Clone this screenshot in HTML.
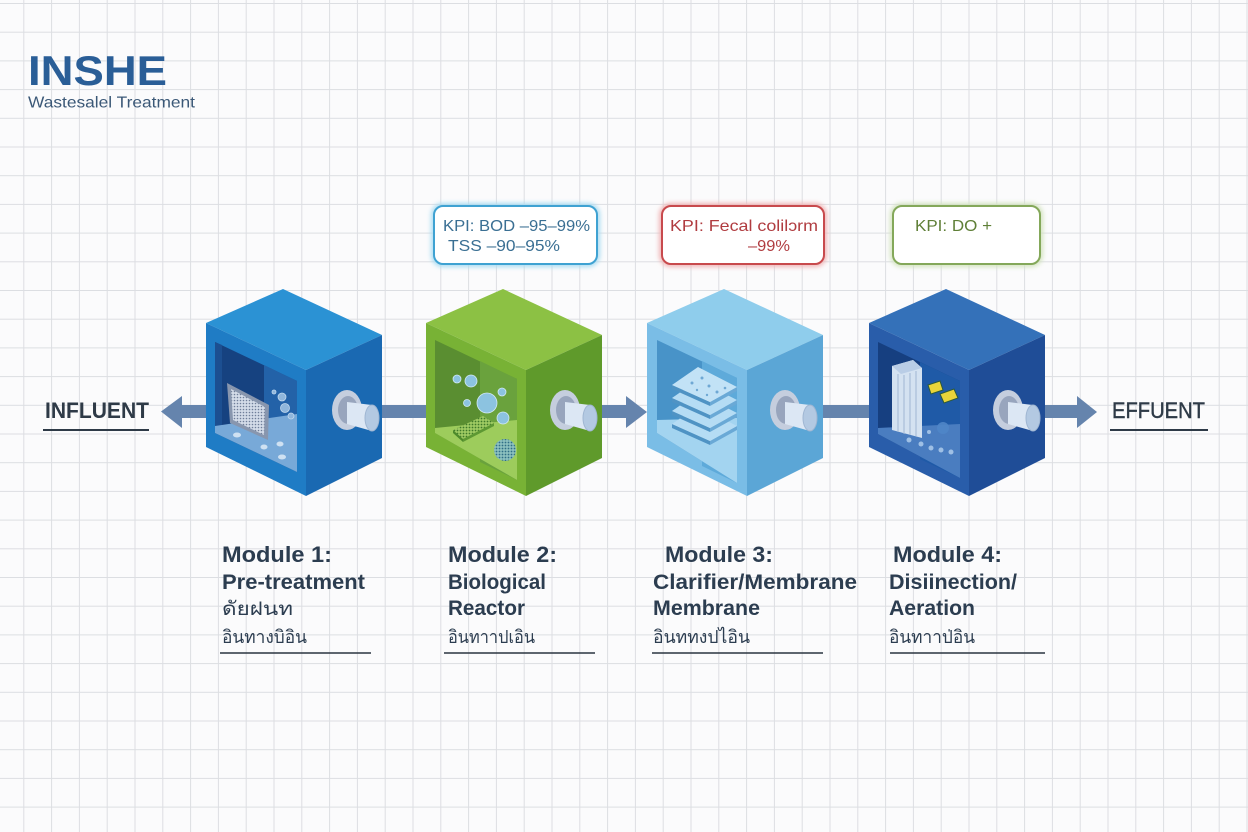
<!DOCTYPE html>
<html><head><meta charset="utf-8"><style>
html,body{margin:0;padding:0;background:#fbfbfc;}
svg{display:block;}
text{font-family:"Liberation Sans","DejaVu Sans",sans-serif;}
</style></head><body>
<svg width="1248" height="832" viewBox="0 0 1248 832" xmlns="http://www.w3.org/2000/svg">
<defs>
<pattern id="grid" x="23.3" y="3" width="27.8" height="28.7" patternUnits="userSpaceOnUse">
<path d="M0.5 0V28.7M0 0.5H27.8" stroke="#dcdee2" stroke-width="1" fill="none"/>
</pattern>
<pattern id="mesh" width="3" height="3" patternUnits="userSpaceOnUse"><rect width="3" height="3" fill="#d3dbe8"/><circle cx="1.5" cy="1.5" r="0.8" fill="#6f7e99"/></pattern>
<pattern id="gmesh" width="3" height="3" patternUnits="userSpaceOnUse"><rect width="3" height="3" fill="#9fcb63"/><circle cx="1.5" cy="1.5" r="0.9" fill="#3f7a2a"/></pattern>
<pattern id="tmesh" width="3" height="3" patternUnits="userSpaceOnUse"><rect width="3" height="3" fill="#8cc0bf"/><circle cx="1.5" cy="1.5" r="0.9" fill="#2f6f86"/></pattern>
<filter id="glow" x="-20%" y="-20%" width="140%" height="140%"><feGaussianBlur stdDeviation="2.5"/></filter>
</defs>
<rect width="1248" height="832" fill="#fbfbfc"/>
<rect width="1248" height="832" fill="url(#grid)"/>

<!-- Logo -->
<text x="28" y="85" font-size="42" font-weight="bold" fill="#2a5e97" textLength="139" lengthAdjust="spacingAndGlyphs">INSHE</text>
<text x="28" y="107.5" font-size="16" fill="#3b5877" textLength="167" lengthAdjust="spacingAndGlyphs">Wastesalel Treatment</text>

<!-- KPI boxes -->
<rect x="434" y="206" width="163" height="58" rx="9" fill="none" stroke="#a9dcf2" stroke-width="6" filter="url(#glow)"/>
<rect x="434" y="206" width="163" height="58" rx="9" fill="#fff" stroke="#3fa2d2" stroke-width="2"/>
<text x="443" y="231" font-size="16" fill="#3a6f93" textLength="147" lengthAdjust="spacingAndGlyphs">KPI: BOD –95–99%</text>
<text x="448" y="251" font-size="16" fill="#3a6f93" textLength="112" lengthAdjust="spacingAndGlyphs">TSS –90–95%</text>

<rect x="662" y="206" width="162" height="58" rx="9" fill="none" stroke="#f0b5b6" stroke-width="6" filter="url(#glow)"/>
<rect x="662" y="206" width="162" height="58" rx="9" fill="#fff" stroke="#c84a4d" stroke-width="2"/>
<text x="670" y="231" font-size="16" fill="#b03c40" textLength="148" lengthAdjust="spacingAndGlyphs">KPI: Fecal colilɔrm</text>
<text x="748" y="251" font-size="16" fill="#b03c40" textLength="42" lengthAdjust="spacingAndGlyphs">–99%</text>

<rect x="893" y="206" width="147" height="58" rx="9" fill="none" stroke="#d3e3bf" stroke-width="6" filter="url(#glow)"/>
<rect x="893" y="206" width="147" height="58" rx="9" fill="#fff" stroke="#84a85a" stroke-width="2"/>
<text x="915" y="231" font-size="16" fill="#5f7f37" textLength="77" lengthAdjust="spacingAndGlyphs">KPI: DO +</text>

<!-- connectors -->
<g fill="#6584ad">
<rect x="179" y="405" width="30" height="13"/>
<polygon points="182,396 161,411.5 182,428"/>
<rect x="370" y="405" width="60" height="13"/>
<rect x="590" y="405" width="38" height="13"/>
<polygon points="626,396 647,412 626,428"/>
<rect x="810" y="405" width="62" height="13"/>
<rect x="1030" y="405" width="49" height="13"/>
<polygon points="1077,396 1097,412 1077,428"/>
</g>

<!-- INFLUENT / EFFUENT -->
<text x="45" y="418" font-size="22" font-weight="bold" fill="#2e3a47" textLength="104" lengthAdjust="spacingAndGlyphs">INFLUENT</text>
<line x1="43" y1="430" x2="149" y2="430" stroke="#2e3a47" stroke-width="2"/>
<text x="1112" y="418" font-size="22" fill="#2e3a47" textLength="93" lengthAdjust="spacingAndGlyphs" stroke="#2e3a47" stroke-width="0.4">EFFUENT</text>
<line x1="1110" y1="430" x2="1208" y2="430" stroke="#2e3a47" stroke-width="2"/>

<!-- Cube 1 -->
<g transform="translate(206,0)">
<polygon points="0,323 77,289 176,335 100,370" fill="#2b92d4"/>
<polygon points="0,323 100,370 100,496 0,447" fill="#1f7cc5"/>
<polygon points="100,370 176,335 176,458 100,496" fill="#1a69b2"/>
<polygon points="9,342 91,381 91,472 9,433" fill="#164280"/>
<polygon points="58,365 91,381 91,472 58,456" fill="#2362a8"/>
<polygon points="9,342 16,345 16,430 9,433" fill="#1c4f91"/>
<polygon points="9,426 91,414 91,472 9,433" fill="#78a9d8"/>
<polygon points="21,383 63,405 62,440 24,423" fill="#8896ae"/>
<polygon points="25,389 59,407 58,435 27,420" fill="url(#mesh)"/>
<g fill="#8fb6dc" stroke="#c0d8ee" stroke-width="0.8">
<circle cx="76" cy="397" r="4"/><circle cx="79" cy="408" r="4.5"/><circle cx="85" cy="416" r="3"/><circle cx="68" cy="392" r="2"/>
</g>
<g fill="#cfe1f2"><ellipse cx="31" cy="435" rx="4" ry="2.5"/><ellipse cx="58" cy="447" rx="3.5" ry="2.5"/><ellipse cx="74" cy="444" rx="3.5" ry="2.5"/><ellipse cx="76" cy="457" rx="4" ry="2.5"/></g>
<g transform="translate(141,410)">
<ellipse rx="15" ry="20" fill="#c5cede"/>
<ellipse cx="1" rx="10" ry="14" fill="#98a5bd"/>
<path d="M0,-8 L25,-5 L25,21 L0,14 Z" fill="#dce7f4"/>
<ellipse cx="25" cy="8" rx="7" ry="13" fill="#b3c9e2" stroke="#9fb6d2" stroke-width="1"/>
</g>
</g>

<!-- Cube 2 -->
<g transform="translate(426,0)">
<polygon points="0,323 77,289 176,335 100,370" fill="#8cc144"/>
<polygon points="0,323 100,370 100,496 0,447" fill="#78b235"/>
<polygon points="100,370 176,335 176,458 100,496" fill="#5f9a2b"/>
<polygon points="9,340 91,379 91,480 9,433" fill="#5a8e31"/>
<polygon points="54,361 91,379 91,480 54,462" fill="#6aa23d"/>
<polygon points="9,428 91,420 91,480 9,433" fill="#9dcc5c"/>
<polygon points="27,430 57,416 68,423 37,439" fill="url(#gmesh)"/>
<polygon points="27,430 37,439 37,442 27,433" fill="#4d8a2b"/>
<polygon points="37,439 68,423 68,426 37,442" fill="#5d9833"/>
<circle cx="79" cy="450" r="11" fill="url(#tmesh)"/>
<g fill="#8cc3e0" stroke="#d3eaf5" stroke-width="0.8">
<circle cx="61" cy="403" r="10"/><circle cx="31" cy="379" r="4"/><circle cx="45" cy="381" r="6"/><circle cx="41" cy="403" r="3.5"/><circle cx="76" cy="392" r="4"/><circle cx="77" cy="418" r="6"/>
</g>
<g transform="translate(139,410)">
<ellipse rx="15" ry="20" fill="#c5cede"/>
<ellipse cx="1" rx="10" ry="14" fill="#98a5bd"/>
<path d="M0,-8 L25,-5 L25,21 L0,14 Z" fill="#dce7f4"/>
<ellipse cx="25" cy="8" rx="7" ry="13" fill="#b3c9e2" stroke="#9fb6d2" stroke-width="1"/>
</g>
</g>

<!-- Cube 3 -->
<g transform="translate(647,0)">
<polygon points="0,323 77,289 176,335 100,370" fill="#8fcdec"/>
<polygon points="0,323 100,370 100,496 0,447" fill="#7abde6"/>
<polygon points="100,370 176,335 176,458 100,496" fill="#5ba6d6"/>
<polygon points="10,340 90,378 90,483 10,433" fill="#4893c8"/>
<polygon points="55,361 90,378 90,483 55,466" fill="#5eaada"/>
<polygon points="10,420 90,418 90,483 10,433" fill="#a3d4f0"/>
<g>
<polygon points="25,424 63,441 63,445 25,428" fill="#4f93c4"/><polygon points="63,441 90,426 90,430 63,445" fill="#6aa9d6"/><polygon points="25,424 51,406 90,426 63,441" fill="#b5dcf4"/>
<polygon points="25,411 63,428 63,432 25,415" fill="#4f93c4"/><polygon points="63,428 90,413 90,417 63,432" fill="#6aa9d6"/><polygon points="25,411 51,393 90,413 63,428" fill="#b5dcf4"/>
<polygon points="25,398 63,415 63,419 25,402" fill="#4f93c4"/><polygon points="63,415 90,400 90,404 63,419" fill="#6aa9d6"/><polygon points="25,398 51,380 90,400 63,415" fill="#b5dcf4"/>
<polygon points="25,385 63,402 63,406 25,389" fill="#4f93c4"/><polygon points="63,402 90,387 90,391 63,406" fill="#6aa9d6"/><polygon points="25,385 51,367 90,387 63,402" fill="#c2e2f6"/>
</g>
<g fill="#6fa8d4"><circle cx="45" cy="383" r="1.5"/><circle cx="55" cy="378" r="1.5"/><circle cx="62" cy="386" r="1.5"/><circle cx="70" cy="392" r="1.5"/><circle cx="50" cy="390" r="1.2"/><circle cx="78" cy="388" r="1.3"/><circle cx="60" cy="395" r="1.2"/></g>
<g transform="translate(138,410)">
<ellipse rx="15" ry="20" fill="#c5cede"/>
<ellipse cx="1" rx="10" ry="14" fill="#98a5bd"/>
<path d="M0,-8 L25,-5 L25,21 L0,14 Z" fill="#dce7f4"/>
<ellipse cx="25" cy="8" rx="7" ry="13" fill="#b3c9e2" stroke="#9fb6d2" stroke-width="1"/>
</g>
</g>

<!-- Cube 4 -->
<g transform="translate(869,0)">
<polygon points="0,323 77,289 176,335 100,370" fill="#3471b9"/>
<polygon points="0,323 100,370 100,496 0,447" fill="#295daa"/>
<polygon points="100,370 176,335 176,458 100,496" fill="#1f4d97"/>
<polygon points="9,342 91,381 91,478 9,434" fill="#163f80"/>
<polygon points="51,362 91,381 91,478 51,459" fill="#1f5aa7"/>
<polygon points="9,428 91,424 91,478 9,434" fill="#4a7dc0"/>
<polygon points="23,366 44,360 53,368 53,438 23,430" fill="#d4e2f1"/>
<polygon points="23,366 44,360 53,368 32,374" fill="#b9cde6"/>
<g stroke="#9fb6d3" stroke-width="1"><line x1="29" y1="374" x2="29" y2="432"/><line x1="35" y1="375" x2="35" y2="434"/><line x1="41" y1="373" x2="41" y2="435"/><line x1="47" y1="371" x2="47" y2="436"/></g>
<polygon points="59,385 71,381 74,390 62,394" fill="#e8d43a" stroke="#2d5a3a" stroke-width="1"/>
<polygon points="71,394 85,389 89,398 75,403" fill="#e8d43a" stroke="#2d5a3a" stroke-width="1"/>
<g fill="#a9c8ea" opacity="0.9"><circle cx="40" cy="440" r="2.5"/><circle cx="52" cy="444" r="2.5"/><circle cx="62" cy="448" r="2.5"/><circle cx="72" cy="450" r="2.5"/><circle cx="82" cy="452" r="2.5"/><circle cx="60" cy="432" r="2"/><circle cx="74" cy="428" r="6" fill="#4f86c8"/></g>
<g transform="translate(139,410)">
<ellipse rx="15" ry="20" fill="#c5cede"/>
<ellipse cx="1" rx="10" ry="14" fill="#98a5bd"/>
<path d="M0,-8 L25,-5 L25,21 L0,14 Z" fill="#dce7f4"/>
<ellipse cx="25" cy="8" rx="7" ry="13" fill="#b3c9e2" stroke="#9fb6d2" stroke-width="1"/>
</g>
</g>

<!-- Module labels -->
<g fill="#2c3d50">
<text x="222" y="562" font-size="22" font-weight="bold" textLength="110" lengthAdjust="spacingAndGlyphs">Module 1:</text>
<text x="222" y="589" font-size="21" font-weight="bold" textLength="143" lengthAdjust="spacingAndGlyphs">Pre-treatment</text>
<text x="222" y="615" font-size="19" textLength="71" lengthAdjust="spacingAndGlyphs">ดัยฝนท</text>
<text x="222" y="643" font-size="18" textLength="85" lengthAdjust="spacingAndGlyphs">อินทางบิอิน</text>

<text x="448" y="562" font-size="22" font-weight="bold" textLength="109" lengthAdjust="spacingAndGlyphs">Module 2:</text>
<text x="448" y="589" font-size="21" font-weight="bold" textLength="98" lengthAdjust="spacingAndGlyphs">Biological</text>
<text x="448" y="615" font-size="21" font-weight="bold" textLength="77" lengthAdjust="spacingAndGlyphs">Reactor</text>
<text x="448" y="643" font-size="18" textLength="87" lengthAdjust="spacingAndGlyphs">อินทาาปเอิน</text>

<text x="665" y="562" font-size="22" font-weight="bold" textLength="108" lengthAdjust="spacingAndGlyphs">Module 3:</text>
<text x="653" y="589" font-size="21" font-weight="bold" textLength="204" lengthAdjust="spacingAndGlyphs">Clarifier/Membrane</text>
<text x="653" y="615" font-size="21" font-weight="bold" textLength="107" lengthAdjust="spacingAndGlyphs">Membrane</text>
<text x="653" y="643" font-size="18" textLength="97" lengthAdjust="spacingAndGlyphs">อินททงปไอิน</text>

<text x="893" y="562" font-size="22" font-weight="bold" textLength="109" lengthAdjust="spacingAndGlyphs">Module 4:</text>
<text x="889" y="589" font-size="21" font-weight="bold" textLength="128" lengthAdjust="spacingAndGlyphs">Disiinection/</text>
<text x="889" y="615" font-size="21" font-weight="bold" textLength="86" lengthAdjust="spacingAndGlyphs">Aeration</text>
<text x="889" y="643" font-size="18" textLength="86" lengthAdjust="spacingAndGlyphs">อินทาาป่อิน</text>
</g>
<g stroke="#2b3440" stroke-width="1.5">
<line x1="220" y1="653" x2="371" y2="653"/>
<line x1="444" y1="653" x2="595" y2="653"/>
<line x1="652" y1="653" x2="823" y2="653"/>
<line x1="890" y1="653" x2="1045" y2="653"/>
</g>
</svg>
</body></html>
